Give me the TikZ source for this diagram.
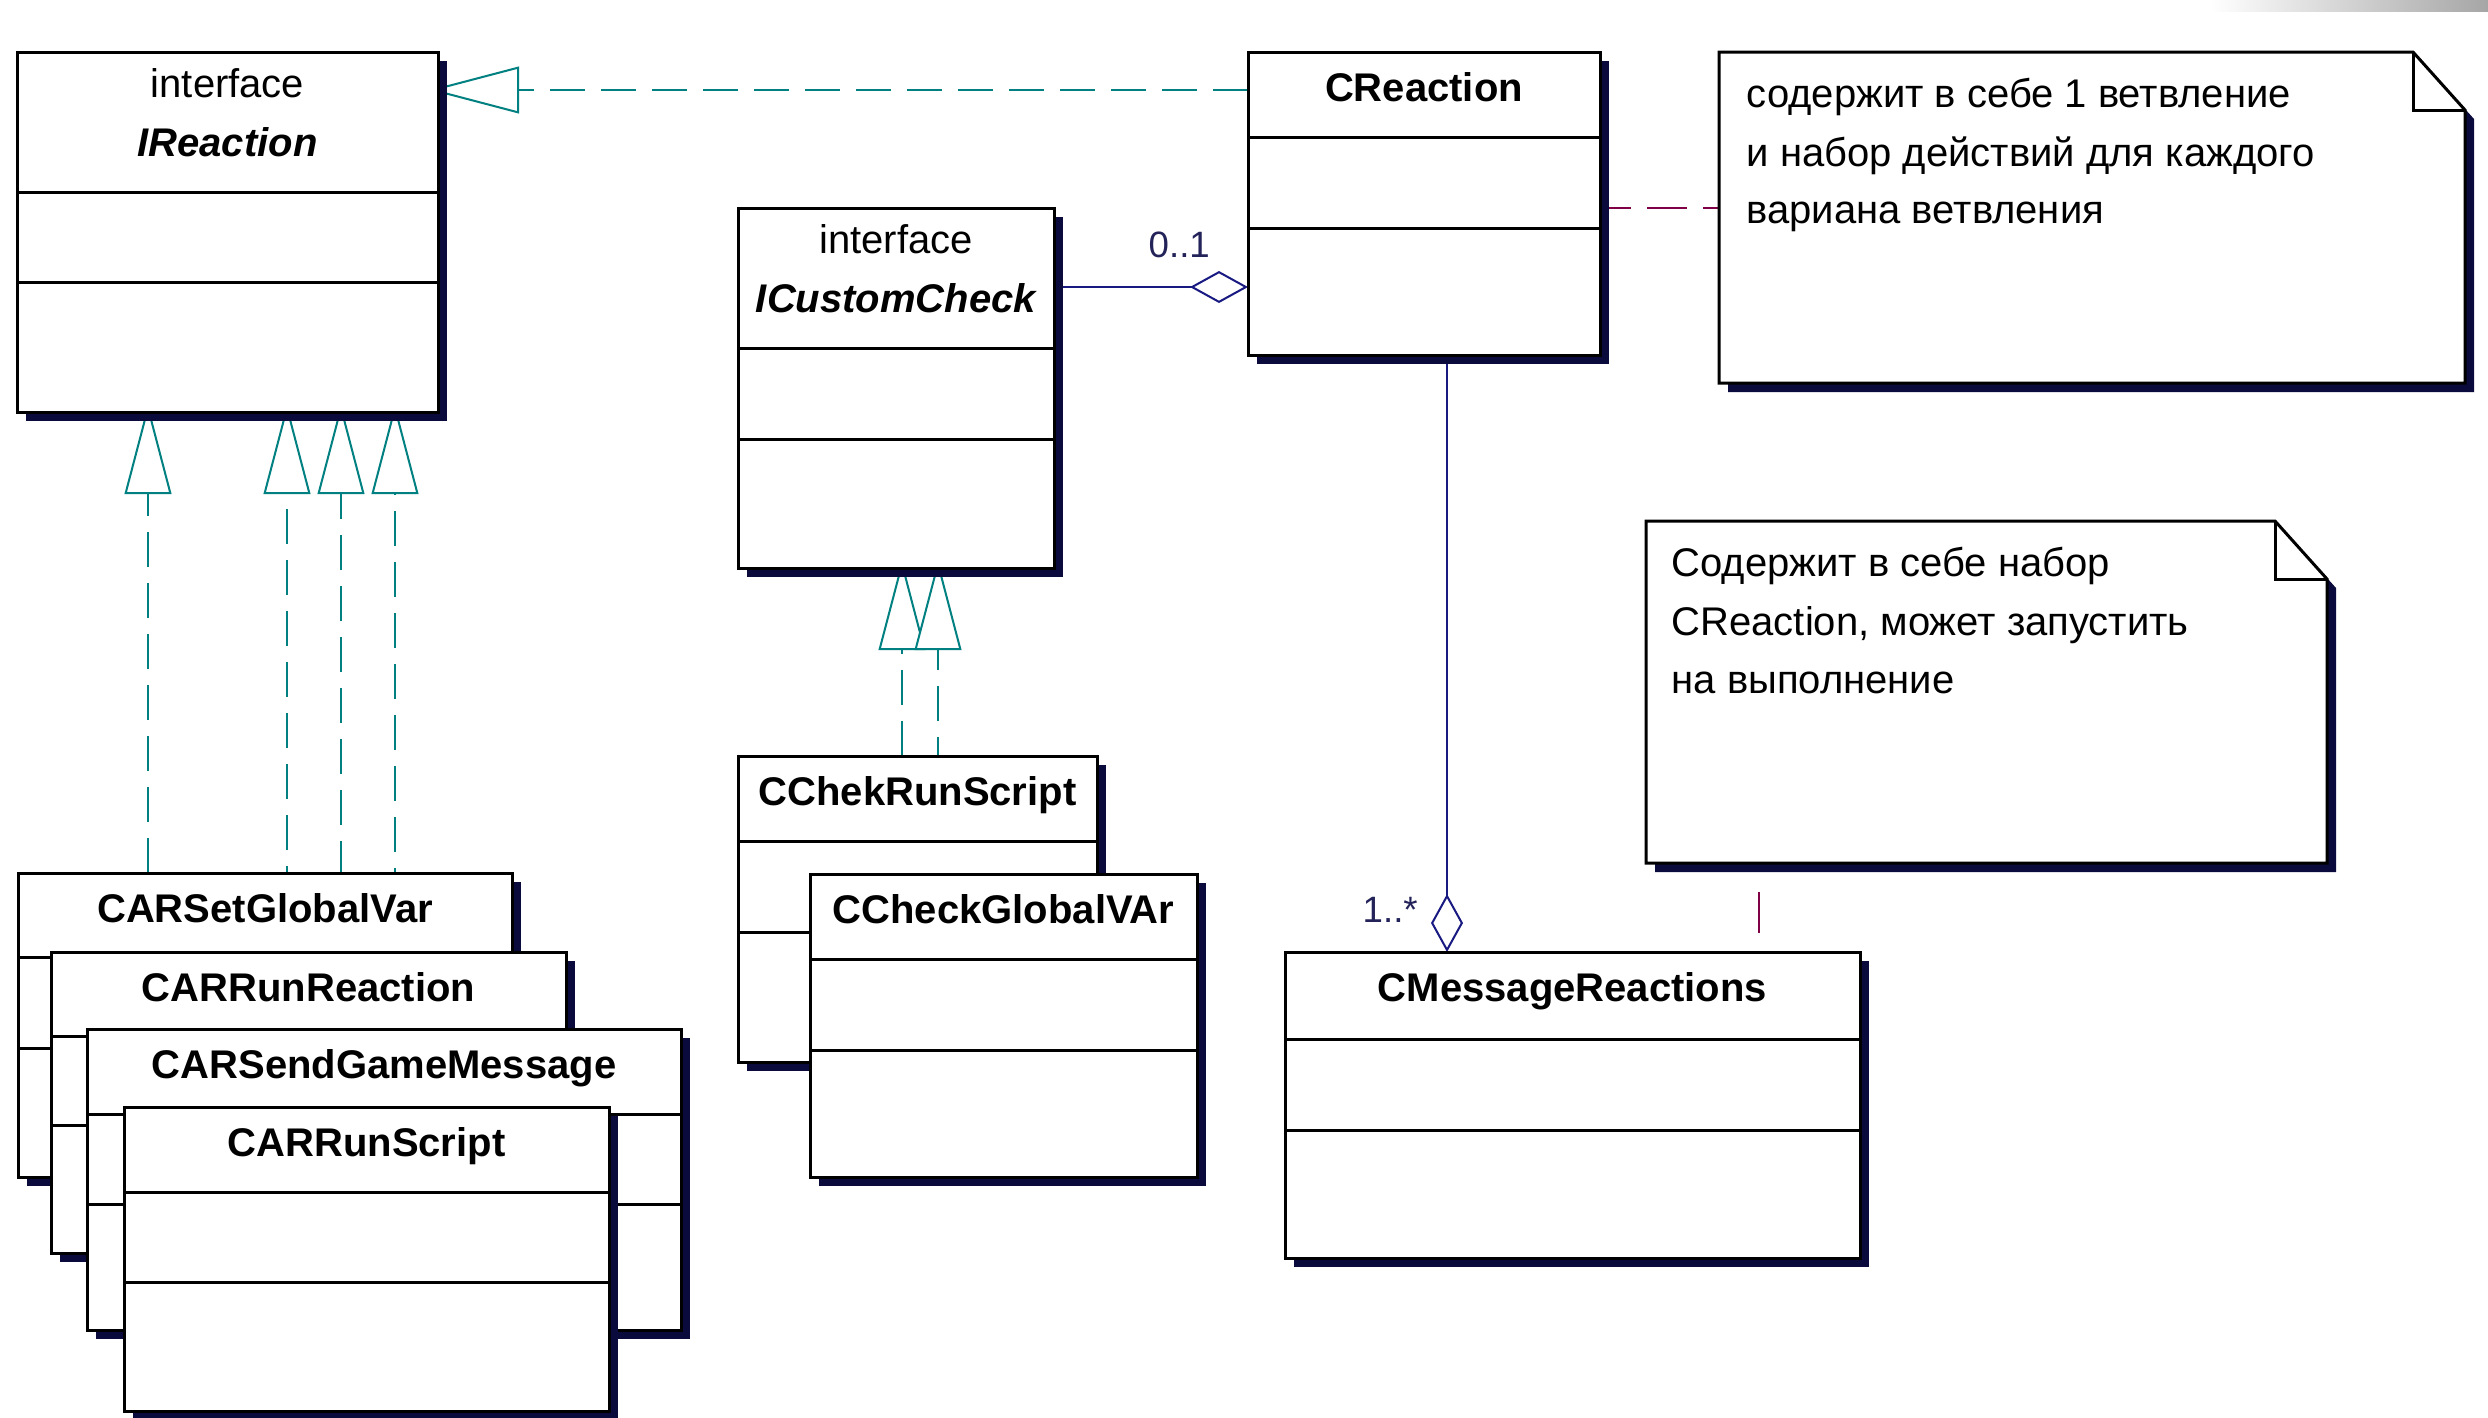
\documentclass[tikz,border=0pt]{standalone}
\usepackage{fontspec}
\setmainfont{Liberation Sans}
\usetikzlibrary{arrows.meta,shadows,calc}
\pgfdeclarelayer{bg}
\pgfsetlayers{bg,main}

\definecolor{shadowcol}{RGB}{10,10,60}
\definecolor{tealc}{RGB}{0,128,128}
\definecolor{navyc}{RGB}{25,25,130}
\definecolor{notecol}{RGB}{128,0,70}
\definecolor{multcol}{RGB}{35,35,90}

\tikzset{
  clsbox/.style={draw=black, line width=0.9pt, fill=white, inner sep=0pt, outer sep=0pt,
    general shadow={fill=shadowcol, shadow xshift=2.7pt, shadow yshift=-2.7pt}},
  divider/.style={draw=black, line width=0.9pt},
  clsname/.style={font=\fontsize{12}{14}\selectfont\bfseries, anchor=base, inner sep=0pt},
  stereo/.style={font=\fontsize{12}{14}\selectfont, anchor=base, inner sep=0pt},
  ifname/.style={font=\fontsize{12}{14}\selectfont\bfseries\itshape, anchor=base, inner sep=0pt},
  notetext/.style={font=\fontsize{12}{14}\selectfont, anchor=base west, inner sep=0pt},
  noteborder/.style={draw=black, line width=0.9pt, fill=white},
  realize/.style={draw=tealc, line width=0.6pt, dash pattern=on 10.5pt off 4.8pt,
    -{Triangle[open, length=27pt, width=14pt, fill=white]}},
  aggr/.style={draw=navyc, line width=0.6pt, -{Diamond[open, length=17.4pt, width=9.6pt, fill=white]}},
  noteline/.style={draw=notecol, line width=0.6pt},
  mult/.style={font=\fontsize{11}{13}\selectfont, text=multcol, anchor=base west, inner sep=0pt},
}

% name, x1, y1, x2, y2, divider1, divider2, label
\newcommand\umlclass[8]{%
  \node[clsbox, anchor=north west, minimum width={(#4-#2)*0.3pt}, minimum height={(#5-#3)*0.3pt}] (#1) at (#2,#3) {};
  \draw[divider] (#2,#6) -- (#4,#6);
  \draw[divider] (#2,#7) -- (#4,#7);
  \node[clsname] (#1-label) at ({(#2+#4)/2},{#3+49}) {#8};
}
\newcommand\umliface[8]{%
  \node[clsbox, anchor=north west, minimum width={(#4-#2)*0.3pt}, minimum height={(#5-#3)*0.3pt}] (#1) at (#2,#3) {};
  \draw[divider] (#2,#6) -- (#4,#6);
  \draw[divider] (#2,#7) -- (#4,#7);
  \node[stereo] (#1-stereo) at ({(#2+#4)/2},{#3+45}) {interface};
  \node[ifname] (#1-label) at ({(#2+#4)/2},{#3+104}) {#8};
}
% name, x1, y1, x2, y2
\newcommand\umlnote[5]{%
  \node[inner sep=0pt, outer sep=0pt, anchor=north west, minimum width={(#4-#2)*0.3pt}, minimum height={(#5-#3)*0.3pt}] (#1) at (#2,#3) {};
  \path[fill=shadowcol, transform canvas={shift={(2.7pt,-2.7pt)}}]
    (#1.north west) -- ([xshift=-15.6pt]#1.north east) -- ([yshift=-17.4pt]#1.north east)
    -- (#1.south east) -- (#1.south west) -- cycle;
  \draw[noteborder]
    (#1.north west) -- ([xshift=-15.6pt]#1.north east) -- ([yshift=-17.4pt]#1.north east)
    -- (#1.south east) -- (#1.south west) -- cycle;
  \draw[divider] ([xshift=-15.6pt]#1.north east) -- ([xshift=-15.6pt,yshift=-17.4pt]#1.north east)
    -- ([yshift=-17.4pt]#1.north east);
}

\begin{document}
\begin{tikzpicture}[x=0.3pt,y=-0.3pt]
\useasboundingbox (0,0) rectangle (2488,1417);
\begin{pgfonlayer}{bg}
  \fill[white] (0,0) rectangle (2488,1417);
  \shade[left color=white, right color=black!35] (2210,0) rectangle (2488,11);
\end{pgfonlayer}

% interfaces and main classes
\umliface{ireact}{17}{52}{438}{412}{192}{282}{IReaction}
\umlclass{creact}{1248}{52}{1600}{355}{137}{228}{CReaction}
\umliface{icc}{738}{208}{1054}{568}{348}{439}{ICustomCheck}
\umlclass{cmr}{1285}{952}{1860}{1258}{1039}{1130}{CMessageReactions}

% CCheck stack
\umlclass{ccrs}{738}{756}{1097}{1062}{841}{932}{CChekRunScript}
\umlclass{ccgv}{810}{874}{1197}{1177}{959}{1050}{CCheckGlobalVAr}

% CAR stack
\umlclass{carset}{18}{873}{512}{1177}{957}{1048}{CARSetGlobalVar}
\umlclass{carrr}{51}{952}{566}{1253}{1036}{1125}{CARRunReaction}
\umlclass{carsgm}{87}{1029}{681}{1330}{1114}{1204}{CARSendGameMessage}
\umlclass{carrs}{124}{1107}{609}{1411}{1192}{1282}{CARRunScript}

% notes
\umlnote{note1}{1719}{52}{2465}{383}
\node[notetext] (note1-l1) at (1746,107) {содержит в себе 1 ветвление};
\node[notetext] (note1-l2) at (1746,166) {и набор действий для каждого};
\node[notetext] (note1-l3) at (1746,223) {вариана ветвления};

\umlnote{note2}{1646}{521}{2327}{863}
\node[notetext] (note2-l1) at (1671,576) {Содержит в себе набор};
\node[notetext] (note2-l2) at (1671,635) {CReaction, может запустить};
\node[notetext] (note2-l3) at (1671,693) {на выполнение};

% multiplicities
\node[mult] (m01) at (1148,257) {0..1};
\node[mult] (m1n) at (1362,922) {1..*};

\begin{pgfonlayer}{bg}
  % realizations
  \draw[realize, shorten >=-2.7pt] (creact.west |- 0,90) -- (ireact.east |- 0,90);
  \draw[realize, shorten >=-2.4pt] (148,0 |- carset.north) -- (148,0 |- ireact.south);
  \draw[realize, shorten >=-2.4pt] (287,0 |- carrr.north) -- (287,0 |- ireact.south);
  \draw[realize, shorten >=-2.4pt] (341,0 |- carsgm.north) -- (341,0 |- ireact.south);
  \draw[realize, shorten >=-2.4pt] (395,0 |- carrs.north) -- (395,0 |- ireact.south);
  \draw[realize, shorten >=-2.4pt] (902,0 |- ccrs.north) -- (902,0 |- icc.south);
  \draw[realize, shorten >=-2.4pt] (938,0 |- ccgv.north) -- (938,0 |- icc.south);
  % aggregations
  \draw[aggr, shorten <=-2.7pt] (icc.east |- 0,287) -- (creact.west |- 0,287);
  \draw[aggr, shorten <=-2.7pt] (1447,0 |- creact.south) -- (1447,0 |- cmr.north);
  % note anchors
  \draw[noteline, dash pattern=on 12pt off 4.8pt, shorten <=-2.7pt] (creact.east |- 0,208) -- (note1.west |- 0,208);
  \draw[noteline, shorten <=8.7pt, shorten >=5.7pt] (1759,0 |- note2.south) -- (1759,0 |- cmr.north);
\end{pgfonlayer}
\end{tikzpicture}
\end{document}
